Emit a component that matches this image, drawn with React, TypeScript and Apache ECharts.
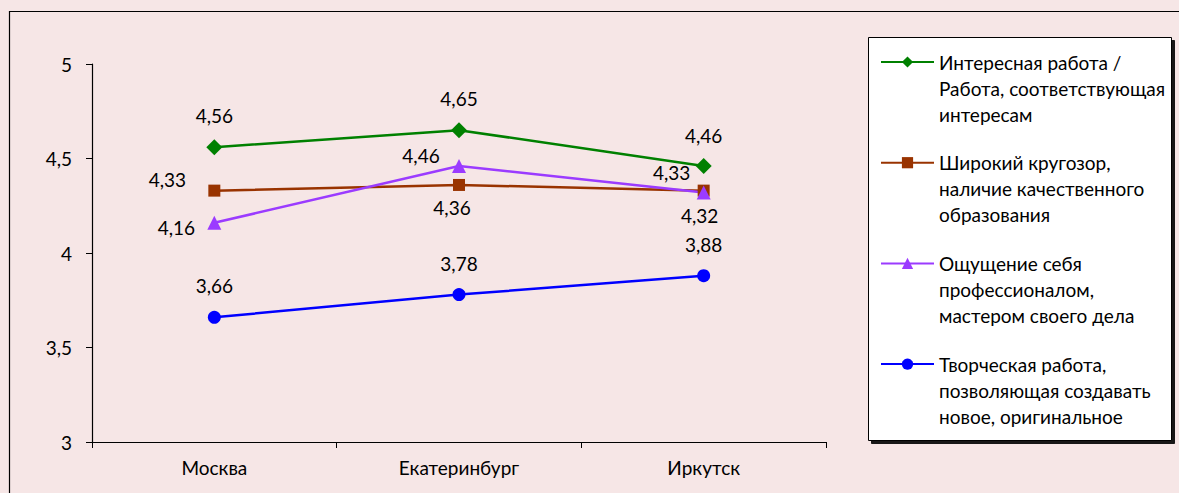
import React, { useEffect, useRef } from "react";
import * as echarts from "echarts";

const categories = ["Москва", "Екатеринбург", "Иркутск"];
const seriesNames = [
  "Интересная работа /\nРабота, соответствующая\nинтересам",
  "Широкий кругозор,\nналичие качественного\nобразования",
  "Ощущение себя\nпрофессионалом,\nмастером своего дела",
  "Творческая работа,\nпозволяющая создавать\nновое, оригинальное",
];
const interesting = [4.56, 4.65, 4.46];
const outlook = [4.33, 4.36, 4.33];
const professional = [4.16, 4.46, 4.32];
const creative = [3.66, 3.78, 3.88];
const yMin = 3;
const yMax = 5;
const yStep = 0.5;

// label offsets (px, relative to point centre) – styling only
const offsInteresting = [[0, -32], [0, -32], [0, -31]];
const offsOutlook = [[-47, -11], [-7, 23], [-32, -18]];
const offsProfessional = [[-38, 5], [-38, -11], [-4, 23]];
const offsCreative = [[0, -32], [0, -31], [0, -31]];

const FONT = "Lato";
const BG = "#F6E6E6";
const FS = 19;

function mk(name: string, values: number[], offs: number[][], color: string, symbol: string, size: number) {
  return {
    name,
    type: "line",
    data: values.map((v, i) => ({
      value: v,
      label: { offset: offs[i] },
    })),
    symbol,
    symbolSize: size,
    lineStyle: { color, width: 2.5 },
    itemStyle: { color },
    label: {
      show: true,
      position: "inside",
      align: "center",
      verticalAlign: "middle",
      color: "#000",
      fontFamily: FONT,
      fontSize: FS,
      formatter: (p: any) => String(p.value).replace(".", ","),
    },
  };
}

export default function App() {
  const ref = useRef<HTMLDivElement>(null);
  useEffect(() => {
    const chart = echarts.init(ref.current!, null, { renderer: "svg" });
    chart.setOption({
      animation: false,
      backgroundColor: BG,
      textStyle: { fontFamily: FONT },
      grid: { left: 92, top: 64, right: 353, bottom: 51 },
      graphic: [
        {
          type: "rect",
          z: 0,
          shape: { x: 9.5, y: 11.5, width: 1300, height: 600 },
          style: { fill: "none", stroke: "#000", lineWidth: 1.2 },
        },
        {
          type: "rect",
          z: 0,
          shape: { x: 868.5, y: 37.5, width: 303, height: 403 },
          style: {
            fill: "#fff",
            stroke: "#000",
            lineWidth: 1,
            shadowColor: "rgba(0,0,0,0.9)",
            shadowOffsetX: 3,
            shadowOffsetY: 3,
            shadowBlur: 0,
          },
        },
      ],
      legend: {
        orient: "vertical",
        left: 880,
        top: -3,
        padding: 0,
        itemWidth: 53,
        itemHeight: 14,
        itemGap: -29.3,
        z: 5,
        formatter: (name: string) => "\n\n" + name,
        textStyle: {
          fontFamily: FONT,
          fontSize: FS,
          lineHeight: 26,
          color: "#000",
        },
        data: seriesNames,
      },
      xAxis: {
        type: "category",
        data: categories,
        boundaryGap: true,
        axisLine: { lineStyle: { color: "#000", width: 1.2 } },
        axisTick: { show: true, length: 6, lineStyle: { color: "#000" } },
        axisLabel: { color: "#000", fontSize: FS, fontFamily: FONT, margin: 16 },
        splitLine: { show: false },
      },
      yAxis: {
        type: "value",
        min: yMin,
        max: yMax,
        interval: yStep,
        axisLine: { show: true, lineStyle: { color: "#000", width: 1.2 } },
        axisTick: { show: true, length: 6, lineStyle: { color: "#000" } },
        axisLabel: {
          color: "#000",
          fontSize: FS,
          fontFamily: FONT,
          margin: 20,
          formatter: (v: number) => String(v).replace(".", ","),
        },
        splitLine: { show: false },
      },
      series: [
        mk(seriesNames[0], interesting, offsInteresting, "#008000", "diamond", 16),
        mk(seriesNames[1], outlook, offsOutlook, "#993300", "rect", 12),
        mk(seriesNames[2], professional, offsProfessional, "#9B3BFF", "triangle", 14),
        mk(seriesNames[3], creative, offsCreative, "#0000FF", "circle", 13),
      ],
    });
    return () => chart.dispose();
  }, []);
  return (
    <div
      ref={ref}
      style={{ position: "fixed", left: 0, top: 0, width: 1179, height: 493, background: BG }}
    />
  );
}
